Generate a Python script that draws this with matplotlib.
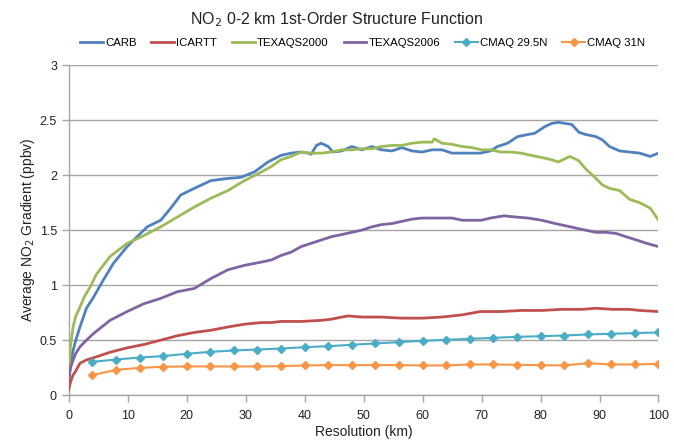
import matplotlib
matplotlib.use("Agg")
import matplotlib.pyplot as plt
import numpy as np

plt.rcParams['font.family'] = ['Liberation Sans', 'DejaVu Sans']

# Aircraft-derived structure functions (resolution km, gradient ppbv)
carb_x = [0, 0.3, 0.7, 1.2, 1.9, 3.0, 4.2, 5.9, 7.6, 9.9, 11.6, 13.3, 15.6, 17.3, 19.0,
          21.3, 24.1, 27.0, 29.2, 31.5, 33.8, 36.0, 37.7, 39.4, 40.6, 41.1, 42.0, 42.8,
          44.0, 44.8, 46.3, 48.0, 49.7, 51.4, 53.0, 54.8, 56.5, 58.2, 59.9, 61.6, 63.3,
          65.0, 66.7, 68.4, 69.8, 71.5, 72.7, 74.4, 76.1, 77.9, 79.0, 80.7, 81.9, 83.0,
          84.2, 85.3, 86.5, 87.6, 89.4, 90.5, 91.7, 93.4, 95.1, 96.8, 98.6, 100]
carb_y = [0.13, 0.28, 0.40, 0.50, 0.62, 0.79, 0.89, 1.05, 1.20, 1.35, 1.44, 1.53, 1.59,
          1.70, 1.82, 1.88, 1.95, 1.97, 1.98, 2.03, 2.12, 2.18, 2.20, 2.21, 2.20, 2.19,
          2.27, 2.29, 2.26, 2.21, 2.22, 2.26, 2.23, 2.26, 2.23, 2.22, 2.25, 2.22, 2.21,
          2.23, 2.23, 2.20, 2.20, 2.20, 2.20, 2.22, 2.26, 2.29, 2.35, 2.37, 2.38, 2.44,
          2.47, 2.48, 2.47, 2.46, 2.39, 2.37, 2.35, 2.32, 2.26, 2.22, 2.21, 2.20, 2.17, 2.20]

icartt_x = [0, 0.3, 0.7, 1.2, 1.9, 3.0, 4.2, 7.0, 9.9, 12.7, 15.6, 18.4, 21.3, 24.1, 27.0,
            29.8, 32.7, 34.4, 36.0, 39.4, 42.8, 44.5, 46.3, 47.4, 49.7, 53.0, 56.5, 59.9,
            63.3, 66.7, 69.8, 73.3, 76.7, 80.2, 83.6, 87.0, 89.4, 92.2, 95.1, 96.8, 100]
icartt_y = [0.05, 0.12, 0.18, 0.22, 0.29, 0.32, 0.34, 0.39, 0.43, 0.46, 0.50, 0.54, 0.57,
            0.59, 0.62, 0.645, 0.66, 0.66, 0.67, 0.67, 0.68, 0.69, 0.71, 0.72, 0.71, 0.71,
            0.70, 0.70, 0.71, 0.73, 0.76, 0.76, 0.77, 0.77, 0.78, 0.78, 0.79, 0.78, 0.78,
            0.77, 0.76]

texaqs2000_x = [0, 0.3, 0.74, 1.2, 1.9, 2.7, 3.6, 4.7, 7.0, 9.9, 12.7, 15.6, 17.8, 21.3,
                24.1, 27.0, 29.8, 32.7, 34.4, 36.0, 37.7, 39.4, 41.1, 42.8, 44.5, 46.3,
                48.0, 49.7, 51.4, 53.0, 54.8, 56.5, 58.2, 59.9, 61.6, 62.0, 63.3, 65.0,
                66.7, 68.4, 70.0, 71.5, 73.3, 75.0, 76.7, 78.4, 80.2, 81.9, 83.0, 84.2,
                85.0, 86.5, 87.6, 89.4, 90.5, 91.7, 93.4, 95.1, 96.8, 98.6, 100]
texaqs2000_y = [0.20, 0.45, 0.62, 0.72, 0.80, 0.90, 0.98, 1.10, 1.26, 1.38, 1.45, 1.53,
                1.60, 1.71, 1.79, 1.86, 1.95, 2.03, 2.08, 2.14, 2.17, 2.21, 2.20, 2.20,
                2.21, 2.23, 2.23, 2.24, 2.24, 2.26, 2.27, 2.27, 2.29, 2.30, 2.30, 2.33,
                2.29, 2.28, 2.26, 2.25, 2.23, 2.23, 2.21, 2.21, 2.20, 2.18, 2.16, 2.14,
                2.12, 2.15, 2.17, 2.13, 2.06, 1.97, 1.91, 1.88, 1.86, 1.78, 1.75, 1.70, 1.59]

texaqs2006_x = [0, 0.3, 0.74, 1.2, 1.9, 3.0, 4.2, 7.0, 9.9, 12.7, 15.6, 18.4, 21.3, 24.1,
                27.0, 29.8, 32.7, 34.4, 36.0, 37.7, 39.4, 41.1, 42.8, 44.5, 46.3, 48.0,
                49.7, 51.4, 53.0, 54.8, 56.5, 58.2, 59.9, 61.6, 63.3, 65.0, 66.7, 68.4,
                70.0, 71.5, 73.8, 75.6, 77.9, 80.2, 82.5, 84.2, 85.9, 87.6, 89.4, 91.1,
                92.8, 94.5, 96.3, 98.0, 100]
texaqs2006_y = [0.15, 0.25, 0.32, 0.38, 0.44, 0.50, 0.56, 0.68, 0.76, 0.83, 0.88, 0.94,
                0.97, 1.06, 1.14, 1.18, 1.21, 1.23, 1.27, 1.30, 1.35, 1.38, 1.41, 1.44,
                1.46, 1.48, 1.50, 1.53, 1.55, 1.56, 1.58, 1.60, 1.61, 1.61, 1.61, 1.61,
                1.59, 1.59, 1.59, 1.61, 1.63, 1.62, 1.61, 1.59, 1.56, 1.54, 1.52, 1.50,
                1.48, 1.48, 1.47, 1.44, 1.41, 1.38, 1.35]

# CMAQ model output, sampled every 4 km
cmaq_x = list(range(4, 101, 4))
cmaq295_y = [0.303, 0.324, 0.342, 0.355, 0.376, 0.394, 0.406, 0.415, 0.424, 0.436, 0.445,
             0.458, 0.470, 0.482, 0.494, 0.503, 0.512, 0.521, 0.530, 0.536, 0.542, 0.552,
             0.558, 0.564, 0.570]
cmaq31_y = [0.182, 0.230, 0.248, 0.258, 0.261, 0.261, 0.261, 0.261, 0.264, 0.270, 0.273,
            0.273, 0.273, 0.273, 0.270, 0.270, 0.279, 0.279, 0.276, 0.273, 0.270, 0.291,
            0.279, 0.279, 0.285]

fig = plt.figure(figsize=(6.74, 4.43), dpi=100)
ax = fig.add_axes([0.102, 0.108, 0.875, 0.745])

lw = 2.0
ax.plot(carb_x, carb_y, color='#4F81BD', lw=lw, label='CARB', zorder=3)
ax.plot(icartt_x, icartt_y, color='#C0504D', lw=lw, label='ICARTT', zorder=3)
ax.plot(texaqs2000_x, texaqs2000_y, color='#9BBB59', lw=lw, label='TEXAQS2000', zorder=3)
ax.plot(texaqs2006_x, texaqs2006_y, color='#8064A2', lw=lw, label='TEXAQS2006', zorder=3)
ax.plot(cmaq_x, cmaq295_y, color='#4BACC6', lw=1.5, marker='D', ms=4.5,
        label='CMAQ 29.5N', zorder=4)
ax.plot(cmaq_x, cmaq31_y, color='#F79646', lw=1.5, marker='D', ms=4.5,
        label='CMAQ 31N', zorder=4)

ax.set_xlim(0, 100)
ax.set_ylim(0, 3)
ax.set_xticks(np.arange(0, 101, 10))
ax.set_yticks([0, 0.5, 1, 1.5, 2, 2.5, 3])
ax.set_yticklabels(['0', '0.5', '1', '1.5', '2', '2.5', '3'])
ax.grid(axis='y', color='#A6A6A6', lw=1.0)
ax.set_axisbelow(True)
for s in ['top', 'right']:
    ax.spines[s].set_visible(False)
for s in ['left', 'bottom']:
    ax.spines[s].set_color('#A6A6A6')
    ax.spines[s].set_linewidth(1.0)
ax.tick_params(axis='both', colors='#A6A6A6', labelcolor='#222222', labelsize=9,
               length=5, width=1.0)
ax.tick_params(axis='x', pad=6)

ax.set_xlabel('Resolution (km)', fontsize=10, color='#222222')
ax.set_ylabel('Average NO$_2$ Gradient (ppbv)', fontsize=10, color='#222222')
ax.xaxis.set_label_coords(0.5, -0.112)
ax.xaxis.label.set_va('center')
ax.yaxis.set_label_coords(-0.069, 0.5)
ax.yaxis.label.set_va('center')

fig.text(0.5, 0.955, 'NO$_2$ 0-2 km 1st-Order Structure Function', ha='center',
         va='center', fontsize=11.5, color='#222222')

fig.legend(loc='center', bbox_to_anchor=(0.538, 0.903), ncol=6, frameon=False,
           fontsize=8.2, handlelength=2.0, handletextpad=0.2, columnspacing=1.3,
           borderaxespad=0)

fig.savefig('out.png', dpi=100)
